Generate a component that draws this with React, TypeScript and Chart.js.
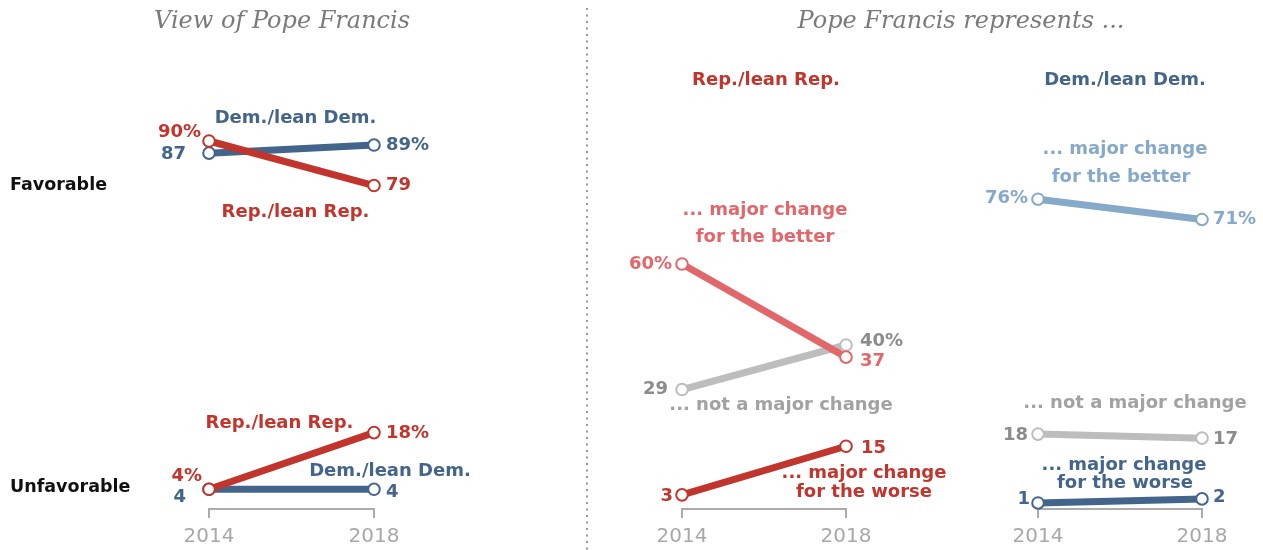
import React, { useEffect, useRef } from "react";
import { Chart, registerables } from "chart.js";

Chart.register(...registerables);

// ---------- data ----------
const years = [2014, 2018];
const tickYears = [2014, 2018];

const favorableRep = [90, 79];
const favorableDem = [87, 89];
const unfavorableRep = [4, 18];
const unfavorableDem = [4, 4];

const repBetter = [60, 37];
const repNotMajor = [29, 40];
const repWorse = [3, 15];

const demBetter = [76, 71];
const demNotMajor = [18, 17];
const demWorse = [1, 2];

// ---------- styles ----------
const W = 1263;
const H = 550;
const AXIS_H = 41;
const PX_PER_PT = 4.05;
const FONT = '"DejaVu Sans", sans-serif';
const SERIF = '"DejaVu Serif", serif';

const RED = "#c1352d";
const BLUE = "#43658b";
const LIGHT_RED = "#e2676b";
const LIGHT_BLUE = "#87a9c9";
const GRAY_LINE = "#bdbdbd";
const GRAY_TEXT = "#8b8b8b";
const GRAY_LABEL = "#a2a2a2";
const AXIS = "#ababab";

type Label = {
  text: string;
  ax?: number;
  ay?: number;
  px?: number;
  py?: number;
  dx?: number;
  dy?: number;
  align?: CanvasTextAlign;
  color: string;
  size?: number;
  weight?: string;
};

const fmt = (v: number, pct: boolean) => (pct ? `${v}%` : `${v}`);

function series(label: string, values: number[], color: string, order: number) {
  return {
    label,
    data: years.map((x, i) => ({ x, y: values[i] })),
    borderColor: color,
    backgroundColor: color,
    borderWidth: 7,
    borderCapStyle: "butt" as const,
    pointRadius: 5.8,
    pointHoverRadius: 5.8,
    pointBorderWidth: 2,
    pointBackgroundColor: "#ffffff",
    pointBorderColor: color,
    tension: 0,
    clip: false as any,
    order,
  };
}

function labelPlugin(labels: Label[], id: string, extra?: (chart: any) => void) {
  return {
    id,
    afterDraw(chart: any) {
      const ctx = chart.ctx;
      const xs = chart.scales.x;
      const ys = chart.scales.y;
      ctx.save();
      for (const l of labels) {
        const x = (l.px ?? xs.getPixelForValue(l.ax)) + (l.dx ?? 0);
        const y = (l.py ?? ys.getPixelForValue(l.ay)) + (l.dy ?? 0);
        ctx.font = `${l.weight ?? "bold"} ${l.size ?? 18}px ${FONT}`;
        ctx.fillStyle = l.color;
        ctx.textAlign = l.align ?? "center";
        ctx.textBaseline = "middle";
        ctx.fillText(l.text, x, y);
      }
      if (extra) extra(chart);
      ctx.restore();
    },
  };
}

function makeConfig(datasets: any[], x0: number, x1: number, zeroPx: number, plugin: any) {
  const areaH = H - AXIS_H;
  const min = -(areaH - zeroPx) / PX_PER_PT;
  const max = min + areaH / PX_PER_PT;
  return {
    type: "line" as const,
    data: { datasets },
    options: {
      responsive: false,
      animation: false as const,
      events: [] as any[],
      layout: { autoPadding: false, padding: { left: x0, right: W - x1, top: 0, bottom: 0 } },
      plugins: { legend: { display: false }, tooltip: { enabled: false } },
      scales: {
        x: {
          type: "linear" as const,
          min: years[0],
          max: years[years.length - 1],
          position: "bottom" as const,
          afterBuildTicks: (s: any) => {
            s.ticks = tickYears.map((v) => ({ value: v }));
          },
          afterFit: (s: any) => {
            s.height = AXIS_H;
          },
          ticks: {
            callback: (v: any) => String(v),
            color: "#a8a8a8",
            font: { family: FONT, size: 20 },
            padding: 7,
            maxRotation: 0,
            autoSkip: false,
          },
          grid: { drawOnChartArea: false, drawTicks: true, tickLength: 9, color: AXIS, lineWidth: 2 },
          border: { display: true, color: AXIS, width: 2 },
        },
        y: { type: "linear" as const, display: false, min, max },
      },
    },
    plugins: [plugin],
  };
}

// ---------- label annotations ----------
const leftLabels: Label[] = [
  { text: "Favorable", px: 10, ay: favorableRep[1], align: "left", color: "#111", size: 17.5 },
  { text: "Unfavorable", px: 10, ay: unfavorableDem[0], dy: -2, align: "left", color: "#111", size: 17.5 },
  { text: fmt(favorableRep[0], true), ax: 2014, ay: favorableRep[0], dx: -8, dy: -9, align: "right", color: RED },
  { text: fmt(favorableDem[0], false), ax: 2014, ay: favorableDem[0], dx: -23, dy: 1, align: "right", color: BLUE },
  { text: fmt(favorableDem[1], true), ax: 2018, ay: favorableDem[1], dx: 12, align: "left", color: BLUE },
  { text: fmt(favorableRep[1], false), ax: 2018, ay: favorableRep[1], dx: 12, align: "left", color: RED },
  { text: "Dem./lean Dem.", ax: 2016, ay: favorableDem[1], dx: 4, dy: -27, color: BLUE },
  { text: "Rep./lean Rep.", ax: 2016, ay: favorableRep[1], dx: 4, dy: 27, color: RED },
  { text: "Rep./lean Rep.", ax: 2016, ay: unfavorableRep[1], dx: -12, dy: -9, color: RED },
  { text: fmt(unfavorableRep[1], true), ax: 2018, ay: unfavorableRep[1], dx: 12, dy: 1, align: "left", color: RED },
  { text: fmt(unfavorableRep[0], true), ax: 2014, ay: unfavorableRep[0], dx: -7, dy: -13, align: "right", color: RED },
  { text: fmt(unfavorableDem[0], false), ax: 2014, ay: unfavorableDem[0], dx: -23, dy: 8, align: "right", color: BLUE },
  { text: "Dem./lean Dem.", ax: 2018, ay: unfavorableDem[1], dx: 16, dy: -18, color: BLUE },
  { text: fmt(unfavorableDem[1], false), ax: 2018, ay: unfavorableDem[1], dx: 12, dy: 3, align: "left", color: BLUE },
];

const repLabels: Label[] = [
  { text: "Rep./lean Rep.", ax: 2016, py: 80, dx: 2, color: RED },
  { text: "... major change", ax: 2016, ay: repBetter[0], dx: 1, dy: -54, color: LIGHT_RED },
  { text: "for the better", ax: 2016, ay: repBetter[0], dx: 1, dy: -27, color: LIGHT_RED },
  { text: fmt(repBetter[0], true), ax: 2014, ay: repBetter[0], dx: -10, align: "right", color: LIGHT_RED },
  { text: fmt(repNotMajor[1], true), ax: 2018, ay: repNotMajor[1], dx: 14, dy: -4, align: "left", color: GRAY_TEXT },
  { text: fmt(repBetter[1], false), ax: 2018, ay: repBetter[1], dx: 14, dy: 4, align: "left", color: LIGHT_RED },
  { text: fmt(repNotMajor[0], false), ax: 2014, ay: repNotMajor[0], dx: -14, align: "right", color: GRAY_TEXT },
  { text: "... not a major change", ax: 2016, ay: repNotMajor[0], dx: 17, dy: 16, color: GRAY_LABEL },
  { text: fmt(repWorse[1], false), ax: 2018, ay: repWorse[1], dx: 15, dy: 2, align: "left", color: RED },
  { text: "... major change", ax: 2018, ay: repWorse[1], dx: 18, dy: 27, color: RED },
  { text: "for the worse", ax: 2018, ay: repWorse[1], dx: 18, dy: 46, color: RED },
  { text: fmt(repWorse[0], false), ax: 2014, ay: repWorse[0], dx: -9, dy: 1, align: "right", color: RED },
];

const demLabels: Label[] = [
  { text: "Dem./lean Dem.", ax: 2016, py: 80, dx: 5, color: BLUE },
  { text: "... major change", ax: 2016, ay: demBetter[0], dx: 5, dy: -50, color: LIGHT_BLUE },
  { text: "for the better", ax: 2016, ay: demBetter[0], dx: 1, dy: -22, color: LIGHT_BLUE },
  { text: fmt(demBetter[0], true), ax: 2014, ay: demBetter[0], dx: -10, dy: -1, align: "right", color: LIGHT_BLUE },
  { text: fmt(demBetter[1], true), ax: 2018, ay: demBetter[1], dx: 11, align: "left", color: LIGHT_BLUE },
  { text: "... not a major change", ax: 2016, ay: demNotMajor[0], dx: 15, dy: -31, color: GRAY_LABEL },
  { text: fmt(demNotMajor[0], false), ax: 2014, ay: demNotMajor[0], dx: -10, dy: 1, align: "right", color: GRAY_TEXT },
  { text: fmt(demNotMajor[1], false), ax: 2018, ay: demNotMajor[1], dx: 11, dy: 1, align: "left", color: GRAY_TEXT },
  { text: "... major change", ax: 2016, ay: demWorse[0], dx: 4, dy: -38, color: BLUE },
  { text: "for the worse", ax: 2016, ay: demWorse[0], dx: 5, dy: -20, color: BLUE },
  { text: fmt(demWorse[0], false), ax: 2014, ay: demWorse[0], dx: -8, dy: -4, align: "right", color: BLUE },
  { text: fmt(demWorse[1], false), ax: 2018, ay: demWorse[1], dx: 11, dy: -2, align: "left", color: BLUE },
];

function drawFrame(chart: any) {
  const ctx = chart.ctx;
  ctx.font = `italic 24px ${SERIF}`;
  ctx.fillStyle = "#7a7a7a";
  ctx.textAlign = "center";
  ctx.textBaseline = "alphabetic";
  ctx.fillText("View of Pope Francis", 282, 28);
  ctx.fillText("Pope Francis represents ...", 961, 28);
  ctx.strokeStyle = "#8a8a8a";
  ctx.lineWidth = 1.8;
  ctx.setLineDash([2, 4.5]);
  ctx.beginPath();
  ctx.moveTo(587, 8);
  ctx.lineTo(587, H);
  ctx.stroke();
  ctx.setLineDash([]);
}

export default function App() {
  const leftRef = useRef<HTMLCanvasElement>(null);
  const repRef = useRef<HTMLCanvasElement>(null);
  const demRef = useRef<HTMLCanvasElement>(null);

  useEffect(() => {
    const charts: Chart[] = [];
    if (leftRef.current) {
      charts.push(
        new Chart(
          leftRef.current,
          makeConfig(
            [
              series("Favorable Rep", favorableRep, RED, 0),
              series("Favorable Dem", favorableDem, BLUE, 1),
              series("Unfavorable Rep", unfavorableRep, RED, 0),
              series("Unfavorable Dem", unfavorableDem, BLUE, 1),
            ],
            209,
            374,
            505.5,
            labelPlugin(leftLabels, "leftLabels", drawFrame)
          ) as any
        )
      );
    }
    if (repRef.current) {
      charts.push(
        new Chart(
          repRef.current,
          makeConfig(
            [
              series("Better", repBetter, LIGHT_RED, 0),
              series("Not major", repNotMajor, GRAY_LINE, 1),
              series("Worse", repWorse, RED, 2),
            ],
            682,
            846,
            507,
            labelPlugin(repLabels, "repLabels")
          ) as any
        )
      );
    }
    if (demRef.current) {
      charts.push(
        new Chart(
          demRef.current,
          makeConfig(
            [
              series("Better", demBetter, LIGHT_BLUE, 0),
              series("Not major", demNotMajor, GRAY_LINE, 1),
              series("Worse", demWorse, BLUE, 2),
            ],
            1038,
            1202,
            507,
            labelPlugin(demLabels, "demLabels")
          ) as any
        )
      );
    }
    return () => charts.forEach((c) => c.destroy());
  }, []);

  const canvasStyle: React.CSSProperties = { position: "absolute", left: 0, top: 0, width: W, height: H };
  return (
    <div style={{ position: "absolute", left: 0, top: 0, width: W, height: H, background: "#fff", overflow: "hidden" }}>
      <canvas ref={leftRef} width={W} height={H} style={canvasStyle} />
      <canvas ref={repRef} width={W} height={H} style={canvasStyle} />
      <canvas ref={demRef} width={W} height={H} style={canvasStyle} />
    </div>
  );
}
